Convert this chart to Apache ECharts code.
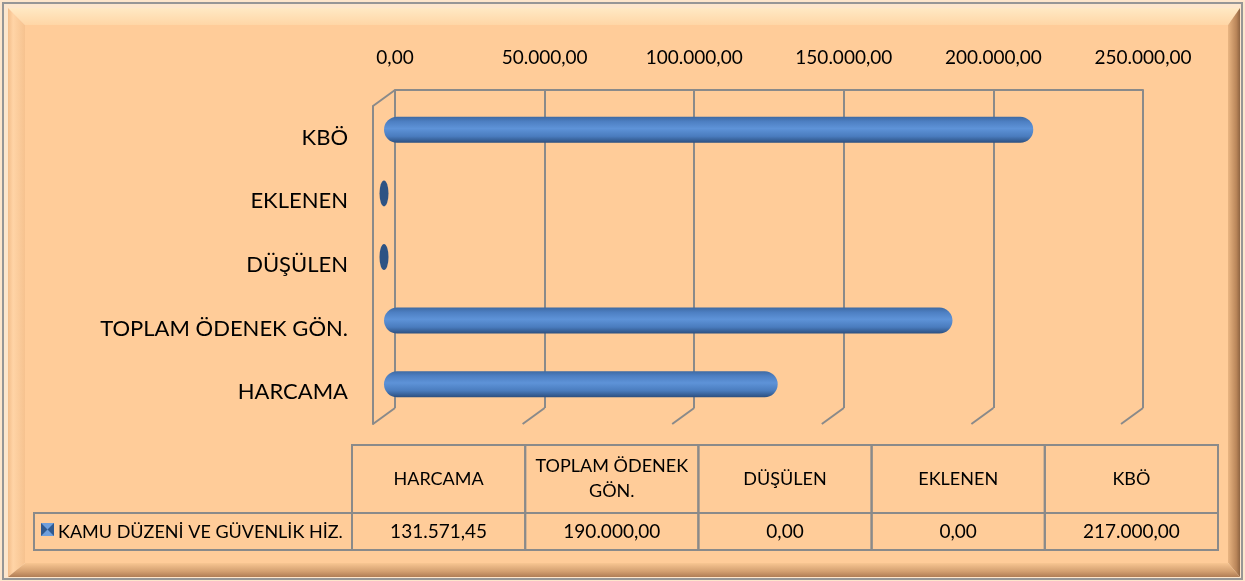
<!DOCTYPE html>
<html>
<head>
<meta charset="utf-8">
<title>KAMU DÜZENİ VE GÜVENLİK HİZ.</title>
<script src="https://cdn.jsdelivr.net/npm/echarts@6/dist/echarts.min.js"></script>
<style>
  html, body { margin: 0; padding: 0; background: #ffffff; }
  #main { width: 1245px; height: 581px; }
</style>
</head>
<body>
<div id="main"></div>
<script>
// categories from bottom (first) to top (last), same order as the data table
const categories = ['HARCAMA', 'TOPLAM ÖDENEK GÖN.', 'DÜŞÜLEN', 'EKLENEN', 'KBÖ'];
const tableHeaders = ['HARCAMA', 'TOPLAM ÖDENEK\nGÖN.', 'DÜŞÜLEN', 'EKLENEN', 'KBÖ'];
const seriesName = 'KAMU DÜZENİ VE GÜVENLİK HİZ.';
const values = [131571.45, 190000, 0, 0, 217000];
const xTicks = [0, 50000, 100000, 150000, 200000, 250000];

const FONT = 'Lato';
const LINE = '#8a8a8a';
const DX = 11, DY = 8;   // 3d depth step (back wall -> bars -> front edge)

// 131571.45 -> "131.571,45"
function fmtTR(v) {
    const parts = Number(v).toFixed(2).split('.');
    parts[0] = parts[0].replace(/\B(?=(\d{3})+(?!\d))/g, '.');
    return parts.join(',');
}

const chart = echarts.init(document.getElementById('main'));

// back wall
const back = { left: 395, top: 90, width: 748, height: 318 };

const grids = [0, 1, 2].map(function (k) {
    return {
        left: back.left - DX * k,
        top: back.top + DY * k,
        width: back.width,
        height: back.height
    };
});

// frame (bevel) and the data table
const W = 1245, H = 581;
const O = { l: 8, t: 8, r: 1240, b: 577 };
const I = { l: 25, t: 25, r: 1228, b: 563 };
const graphic = [];

graphic.push({ type: 'rect', z: -10, shape: { x: 0, y: 0, width: W, height: H }, style: { fill: '#fde6cc' }, silent: true });
graphic.push({ type: 'rect', z: -9, shape: { x: 3, y: 3, width: W - 6, height: H - 5 }, style: { fill: 'none', stroke: '#969696', lineWidth: 2 }, silent: true });
graphic.push({ type: 'rect', z: -9, shape: { x: I.l, y: I.t, width: I.r - I.l, height: I.b - I.t }, style: { fill: '#ffcc99' }, silent: true });
graphic.push({
    type: 'polygon', z: -8, silent: true,
    shape: { points: [[O.l, O.t], [O.r, O.t], [I.r, I.t], [I.l, I.t]] },
    style: { fill: new echarts.graphic.LinearGradient(0, 0, 0, 1, [{ offset: 0, color: '#ffe9c4' }, { offset: 1, color: '#ffd6a6' }]) }
});
graphic.push({
    type: 'polygon', z: -8, silent: true,
    shape: { points: [[O.l, O.t], [I.l, I.t], [I.l, I.b], [O.l, O.b]] },
    style: { fill: new echarts.graphic.LinearGradient(0, 0, 1, 0, [{ offset: 0, color: '#f3bd8a' }, { offset: 0.3, color: '#ffd4a6' }, { offset: 1, color: '#f6c28f' }]) }
});
graphic.push({
    type: 'polygon', z: -8, silent: true,
    shape: { points: [[O.r, O.t], [O.r, O.b], [I.r, I.b], [I.r, I.t]] },
    style: { fill: new echarts.graphic.LinearGradient(0, 0, 1, 0, [{ offset: 0, color: '#e9b582' }, { offset: 0.7, color: '#b98559' }, { offset: 1, color: '#8e6442' }]) }
});
graphic.push({
    type: 'polygon', z: -8, silent: true,
    shape: { points: [[I.l, I.b], [I.r, I.b], [O.r, O.b], [O.l, O.b]] },
    style: { fill: new echarts.graphic.LinearGradient(0, 0, 0, 1, [{ offset: 0, color: '#f8c692' }, { offset: 0.6, color: '#d39f70' }, { offset: 1, color: '#b07d55' }]) }
});

// data table
const tbl = { left: 352, colW: 173.2, top: 445, mid: 513, bottom: 550, legendLeft: 34 };
tableHeaders.forEach(function (h, i) {
    const x = tbl.left + tbl.colW * i;
    graphic.push({ type: 'rect', z: 5, silent: true, shape: { x: x, y: tbl.top, width: tbl.colW, height: tbl.mid - tbl.top }, style: { fill: 'none', stroke: LINE, lineWidth: 2 } });
    graphic.push({ type: 'rect', z: 5, silent: true, shape: { x: x, y: tbl.mid, width: tbl.colW, height: tbl.bottom - tbl.mid }, style: { fill: 'none', stroke: LINE, lineWidth: 2 } });
    graphic.push({ type: 'text', z: 6, silent: true, x: x + tbl.colW / 2, y: (tbl.top + tbl.mid) / 2,
        style: { text: h, fontFamily: FONT, fontSize: 18, fill: '#000', align: 'center', verticalAlign: 'middle', lineHeight: 25 } });
    graphic.push({ type: 'text', z: 6, silent: true, x: x + tbl.colW / 2, y: (tbl.mid + tbl.bottom) / 2,
        style: { text: fmtTR(values[i]), fontFamily: FONT, fontSize: 19, fill: '#000', align: 'center', verticalAlign: 'middle' } });
});
graphic.push({ type: 'rect', z: 5, silent: true, shape: { x: tbl.legendLeft, y: tbl.mid, width: tbl.left - tbl.legendLeft, height: tbl.bottom - tbl.mid }, style: { fill: 'none', stroke: LINE, lineWidth: 2 } });
// legend key
const kx = 41, ky = 523, ks = 13;
graphic.push({ type: 'rect', z: 6, silent: true, shape: { x: kx, y: ky, width: ks, height: ks }, style: { fill: '#6f9fdc' } });
graphic.push({ type: 'polygon', z: 7, silent: true, shape: { points: [[kx, ky], [kx + ks / 2, ky + ks / 2], [kx, ky + ks]] }, style: { fill: '#2f5990' } });
graphic.push({ type: 'polygon', z: 7, silent: true, shape: { points: [[kx + ks, ky], [kx + ks / 2, ky + ks / 2], [kx + ks, ky + ks]] }, style: { fill: '#2f5990' } });
graphic.push({ type: 'text', z: 6, silent: true, x: 58, y: (tbl.mid + tbl.bottom) / 2 + 1,
    style: { text: seriesName, fontFamily: FONT, fontSize: 18, fill: '#000', align: 'left', verticalAlign: 'middle' } });

const barColor = new echarts.graphic.LinearGradient(0, 0, 0, 1, [
    { offset: 0, color: '#3e6aa3' },
    { offset: 0.18, color: '#4d7fc2' },
    { offset: 0.45, color: '#5e93d8' },
    { offset: 0.75, color: '#4a7cbe' },
    { offset: 1, color: '#2c4f7f' }
]);

const option = {
    backgroundColor: 'transparent',
    animation: false,
    textStyle: { fontFamily: FONT },
    graphic: graphic,
    grid: grids,
    xAxis: [
        {
            gridIndex: 0, type: 'value', position: 'top',
            min: 0, max: 250000, interval: 50000,
            axisLine: { show: true, lineStyle: { color: LINE, width: 2 } },
            axisTick: { show: false },
            splitLine: { show: true, lineStyle: { color: LINE, width: 2 } },
            axisLabel: { color: '#000', fontSize: 19, fontFamily: FONT, margin: 23, formatter: fmtTR }
        },
        { gridIndex: 1, type: 'value', min: 0, max: 250000, show: false },
        { gridIndex: 2, type: 'value', min: 0, max: 250000, show: false }
    ],
    yAxis: [
        { gridIndex: 0, type: 'category', data: categories, show: false },
        { gridIndex: 1, type: 'category', data: categories, show: false },
        {
            gridIndex: 2, type: 'category', data: categories,
            axisLine: { show: true, lineStyle: { color: LINE, width: 2 } },
            axisTick: { show: false },
            splitLine: { show: false },
            axisLabel: { color: '#000', fontSize: 22, fontFamily: FONT, margin: 25 }
        }
    ],
    series: [
        {
            // floor edges of the 3d wall
            type: 'custom', xAxisIndex: 0, yAxisIndex: 0, silent: true,
            data: xTicks,
            renderItem: function (params, api) {
                const cs = params.coordSys;
                const x = api.coord([api.value(0), 0])[0];
                const b = cs.y + cs.height;
                const st = { stroke: LINE, lineWidth: 2 };
                const children = [
                    { type: 'line', shape: { x1: x, y1: b, x2: x - 2 * DX, y2: b + 2 * DY }, style: st }
                ];
                if (params.dataIndex === 0) {
                    children.push({ type: 'line', shape: { x1: x, y1: cs.y, x2: x - 2 * DX, y2: cs.y + 2 * DY }, style: st });
                }
                return { type: 'group', children: children };
            }
        },
        {
            name: seriesName, type: 'bar', xAxisIndex: 1, yAxisIndex: 1,
            data: values, barWidth: 26,
            itemStyle: { color: barColor, borderRadius: 13 },
            z: 3
        },
        {
            // zero-length cylinders still show their end cap
            type: 'scatter', xAxisIndex: 1, yAxisIndex: 1, silent: true,
            data: values.map(function (v, i) { return [v, i]; }).filter(function (d) { return d[0] === 0; }),
            symbol: 'circle', symbolSize: [9, 26],
            itemStyle: { color: '#2d5384', opacity: 1 },
            z: 4
        }
    ]
};

chart.setOption(option);
</script>
</body>
</html>
